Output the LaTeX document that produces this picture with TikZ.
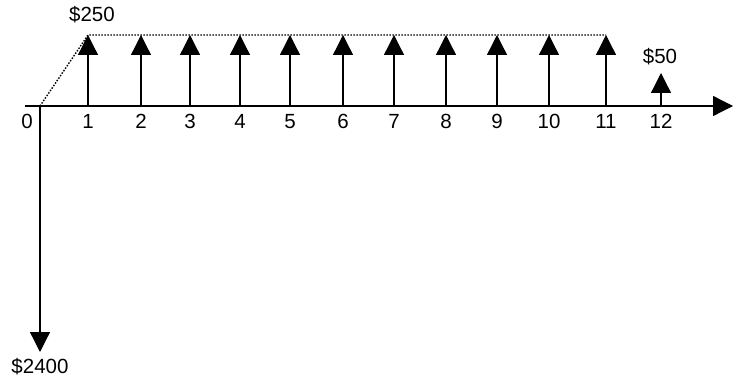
\documentclass[tikz,border=0pt]{standalone}
\usepackage{fontspec}
\setmainfont{Liberation Sans}
\usetikzlibrary{arrows.meta,positioning}

\begin{document}
\begin{tikzpicture}[x=1pt,y=-1pt,
    flow/.style={line width=1.3pt, -{Triangle[width=20pt,length=20pt]}},
    lbl/.style={anchor=base, inner sep=0pt, font=\fontsize{20.5}{24}\selectfont}]
      \useasboundingbox (0,0) rectangle (733,379);

      % time axis and the payment
      \coordinate (start) at (25,106);
      \coordinate (end) at (733,106);
      \coordinate (t0) at (40,106);
      \coordinate (pay) at (40,352);
      \draw[flow] (start) -- (end);
      \draw[flow] (t0) -- (pay);
      \node[lbl] (n0) at (27,129) {0};
      \node[lbl] (p2400) at (40,373) {\$2400};

      % monthly receipts
      \foreach \i/\x in {1/88,2/141,3/190,4/240,5/290,6/343,7/394,8/446,9/497,10/549,11/606} {
        \coordinate (b\i) at (\x,106);
        \coordinate (r\i) at (\x,35);
        \draw[flow] (b\i) -- (r\i);
        \node[lbl] (n\i) at (\x,129) {\i};
      }
      \draw[line width=1.4pt, dash pattern=on 1.5pt off 1.5pt] (t0) -- (r1) -- (r11);
      \node[lbl] (p250) at (92,22) {\$250};

      % last one
      \coordinate (b12) at (661,106);
      \coordinate (r12) at (661,73);
      \draw[flow] (b12) -- (r12);
      \node[lbl] (n12) at (661,129) {12};
      \node[lbl] (p50) at (660,64) {\$50};

\end{tikzpicture}
\end{document}
